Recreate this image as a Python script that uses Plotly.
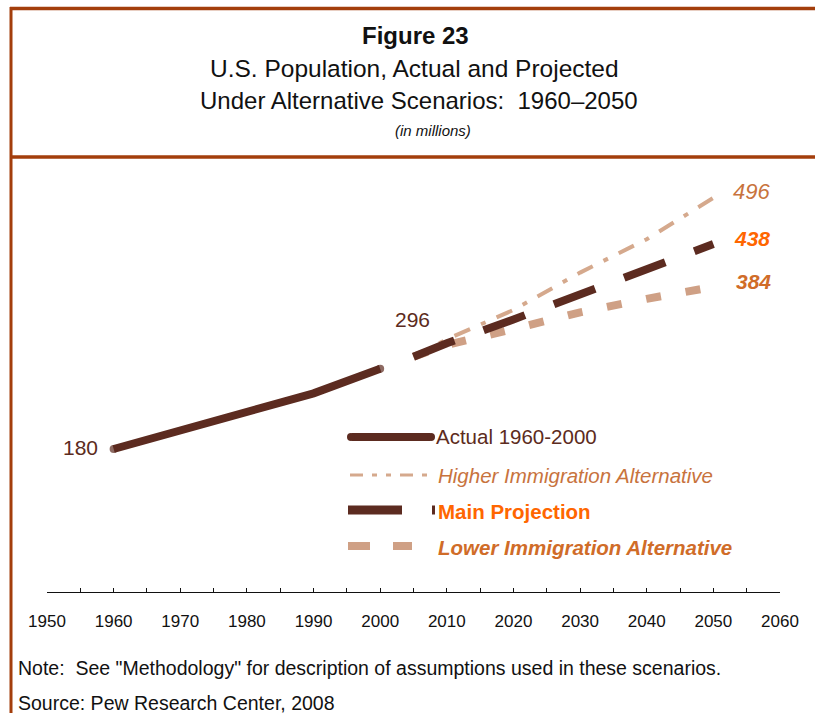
import plotly.graph_objects as go

# ---- data (millions) ----
actual_years = [1960, 1970, 1980, 1990, 2000]
actual_pop = [180, 203, 226, 250, 281]

proj_years = [2005, 2010, 2020, 2030, 2040, 2050]
higher_pop = [296, 318, 355, 402, 444, 496]
main_pop = [296, 313, 343, 375, 408, 438]
lower_pop = [296, 311, 331, 352, 369, 384]

tick_years = list(range(1950, 2061, 10))
tick_labels = [str(y) for y in tick_years]

legend_labels = ["Actual 1960-2000", "Higher Immigration Alternative",
                 "Main Projection", "Lower Immigration Alternative"]

DARK = "#5c2b20"
TAN_HI = "#d5a98d"
TAN_LO = "#cfa085"
RUST = "#a33e0c"
FONT = "Liberation Sans, Arial, sans-serif"

# plot area geometry (pixels)
L, R, T, B = 47, 35, 155, 121
W, H = 815, 713
PW, PH = W - L - R, H - T - B


def px(x):
    return (x - L) / PW


def py(y):
    return (T + PH - y) / PH


fig = go.Figure()

fig.add_trace(go.Scatter(
    x=actual_years, y=actual_pop, mode="lines+markers",
    line=dict(color=DARK, width=8),
    marker=dict(size=[8, 0, 0, 0, 8], color=DARK, line=dict(width=0)),
    hoverinfo="skip", showlegend=False))

fig.add_trace(go.Scatter(
    x=proj_years, y=higher_pop, mode="lines",
    line=dict(color=TAN_HI, width=4, dash="17px,12px,5px,12px"),
    hoverinfo="skip", showlegend=False))

fig.add_trace(go.Scatter(
    x=proj_years, y=lower_pop, mode="lines",
    line=dict(color=TAN_LO, width=8, dash="15px,25px"),
    hoverinfo="skip", showlegend=False))

fig.add_trace(go.Scatter(
    x=proj_years, y=main_pop, mode="lines",
    line=dict(color=DARK, width=8, dash="44px,31px"),
    hoverinfo="skip", showlegend=False))

shapes = []
# frame lines
shapes.append(dict(type="line", xref="paper", yref="paper",
                   x0=px(11), x1=px(11), y0=py(7), y1=py(720),
                   line=dict(color=RUST, width=3)))
shapes.append(dict(type="line", xref="paper", yref="paper",
                   x0=px(10), x1=px(820), y0=py(8.5), y1=py(8.5),
                   line=dict(color=RUST, width=3.5)))
shapes.append(dict(type="line", xref="paper", yref="paper",
                   x0=px(10), x1=px(820), y0=py(157), y1=py(157),
                   line=dict(color=RUST, width=3.5)))

# legend swatches
shapes.append(dict(type="line", xref="paper", yref="paper",
                   x0=px(352), x1=px(430), y0=py(437), y1=py(437),
                   line=dict(color=DARK, width=8)))
shapes.append(dict(type="circle", xref="paper", yref="paper",
                   x0=px(347), x1=px(355), y0=py(433), y1=py(441),
                   fillcolor=DARK, line=dict(width=0)))
shapes.append(dict(type="circle", xref="paper", yref="paper",
                   x0=px(427), x1=px(435), y0=py(433), y1=py(441),
                   fillcolor=DARK, line=dict(width=0)))
shapes.append(dict(type="line", xref="paper", yref="paper",
                   x0=px(350), x1=px(428), y0=py(475), y1=py(475),
                   line=dict(color=TAN_HI, width=3, dash="13px,9px,5px,9px,5px,9px")))
shapes.append(dict(type="line", xref="paper", yref="paper",
                   x0=px(348), x1=px(435), y0=py(510), y1=py(510),
                   line=dict(color=DARK, width=9, dash="54px,30px")))
shapes.append(dict(type="line", xref="paper", yref="paper",
                   x0=px(348), x1=px(412), y0=py(546), y1=py(546),
                   line=dict(color=TAN_LO, width=8, dash="22px,23px")))

ann = []
ann.append(dict(text="<b>Figure 23</b>", x=px(415), y=py(35), font=dict(size=24, color="#111")))
ann.append(dict(text="U.S. Population, Actual and Projected", x=px(414), y=py(68),
                font=dict(size=24.5, color="#111")))
ann.append(dict(text="Under Alternative Scenarios:  1960\u20132050", x=px(419), y=py(101),
                font=dict(size=24, color="#111")))
ann.append(dict(text="<i>(in millions)</i>", x=px(433), y=py(130), font=dict(size=15, color="#111")))
for a in ann:
    a.update(xref="paper", yref="paper", xanchor="center", yanchor="middle", showarrow=False)

notes = [
    dict(text="Note:  See \"Methodology\" for description of assumptions used in these scenarios.",
         x=px(16), y=py(668)),
    dict(text="Source: Pew Research Center, 2008", x=px(16), y=py(703)),
]
for n in notes:
    n.update(xref="paper", yref="paper", xanchor="left", yanchor="middle", showarrow=False,
             font=dict(size=19.5, color="#111"))
    ann.append(n)

leg_styles = [
    (legend_labels[0], DARK, 434),
    ("<i>" + legend_labels[1] + "</i>", "#c8733d", 436),
    ("<b>" + legend_labels[2] + "</b>", "#ff6600", 436),
    ("<b><i>" + legend_labels[3] + "</i></b>", "#d06c28", 436),
]
for (t, c, x0), yy in zip(leg_styles, [437, 475, 511, 547]):
    ann.append(dict(text=t, x=px(x0), y=py(yy), xref="paper", yref="paper",
                    xanchor="left", yanchor="middle", showarrow=False,
                    font=dict(size=20.5, color=c)))

# value labels anchored to the data
ann.append(dict(text=str(actual_pop[0]), x=actual_years[0], y=actual_pop[0], xref="x", yref="y",
                xanchor="right", yanchor="middle", xshift=-14, yshift=1, showarrow=False,
                font=dict(size=21, color=DARK)))
ann.append(dict(text=str(main_pop[0]), x=proj_years[0], y=main_pop[0], xref="x", yref="y",
                xanchor="center", yanchor="middle", xshift=-1, yshift=37, showarrow=False,
                font=dict(size=21, color=DARK)))
ann.append(dict(text="<i>" + str(higher_pop[-1]) + "</i>", x=proj_years[-1], y=higher_pop[-1],
                xref="x", yref="y", xanchor="left", yanchor="middle", xshift=18, yshift=6,
                showarrow=False, font=dict(size=22, color="#c8733d")))
ann.append(dict(text="<b><i>" + str(main_pop[-1]) + "</i></b>", x=proj_years[-1], y=main_pop[-1],
                xref="x", yref="y", xanchor="left", yanchor="middle", xshift=19, yshift=5,
                showarrow=False, font=dict(size=21, color="#ff6600")))
ann.append(dict(text="<b><i>" + str(lower_pop[-1]) + "</i></b>", x=proj_years[-1], y=lower_pop[-1],
                xref="x", yref="y", xanchor="left", yanchor="middle", xshift=21, yshift=5,
                showarrow=False, font=dict(size=21, color="#d06c28")))

fig.update_layout(
    width=W, height=H,
    margin=dict(l=L, r=R, t=T, b=B, pad=0),
    paper_bgcolor="white", plot_bgcolor="white",
    font=dict(family=FONT),
    showlegend=False,
    hovermode=False,
    shapes=shapes,
    annotations=ann,
    xaxis=dict(range=[1950, 2060], tickvals=tick_years, ticktext=tick_labels,
               ticks="inside", ticklen=4, tickcolor="#111", tickwidth=1,
               minor=dict(dtick=5, tick0=1950, ticks="inside", ticklen=4, tickcolor="#111"),
               showline=True, linecolor="#111", linewidth=1, showgrid=False, zeroline=False,
               tickfont=dict(size=17, color="#111"), ticklabelstandoff=14,
               fixedrange=True),
    yaxis=dict(range=[0, 550], visible=False, showgrid=False, zeroline=False, fixedrange=True),
)

fig.write_html("out.html", config={"displayModeBar": False},
               post_script="document.body.style.margin='0px';document.body.style.overflow='hidden';")
